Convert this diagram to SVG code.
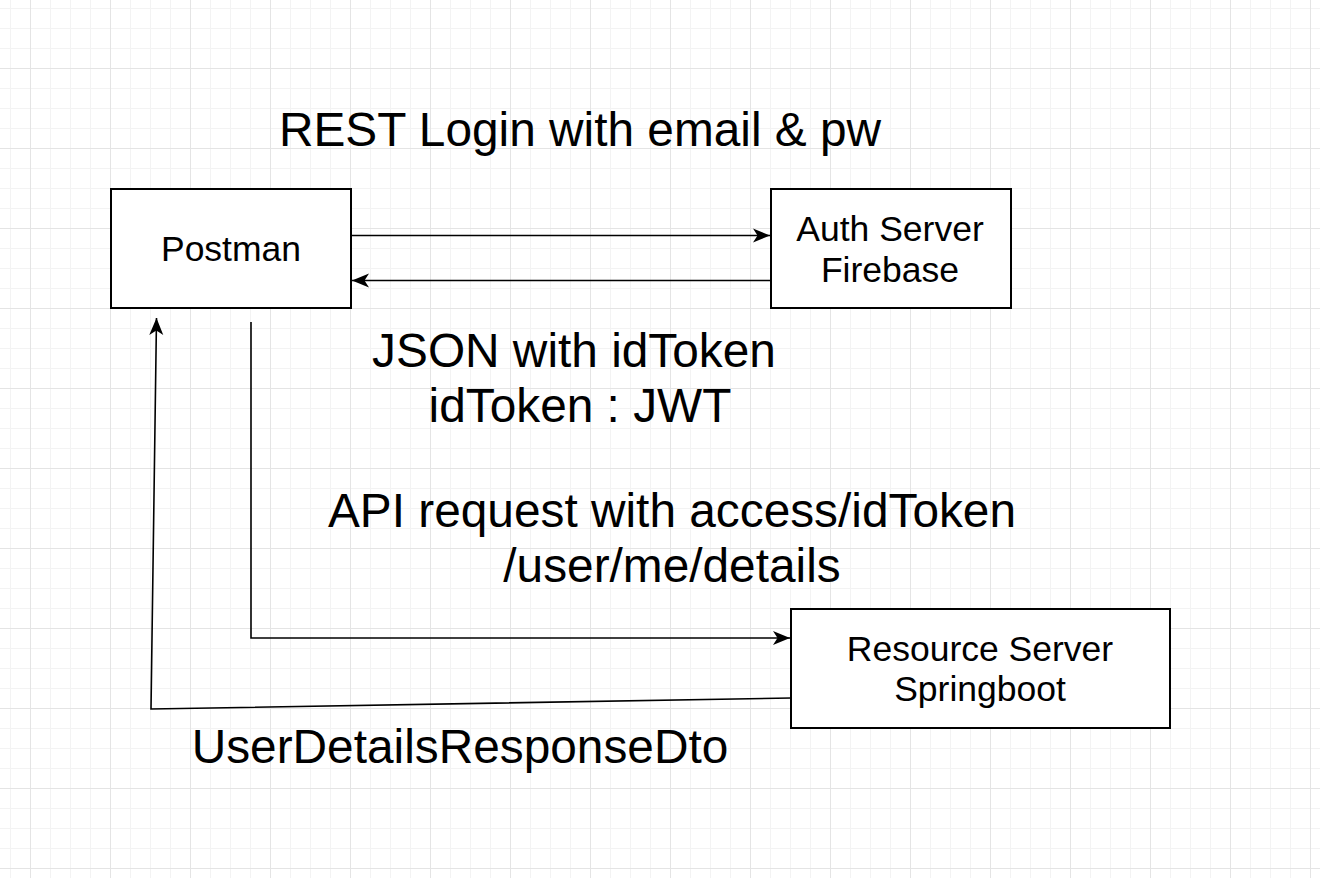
<svg xmlns="http://www.w3.org/2000/svg" width="1320" height="878" viewBox="0 0 1320 878">
<defs>
<pattern id="grid" x="30" y="68" width="80" height="80" patternUnits="userSpaceOnUse">
<rect x="20" y="0" width="1" height="80" fill="#f3f3f3"/>
<rect x="40" y="0" width="1" height="80" fill="#f3f3f3"/>
<rect x="60" y="0" width="1" height="80" fill="#f3f3f3"/>
<rect x="0" y="20" width="80" height="1" fill="#f3f3f3"/>
<rect x="0" y="40" width="80" height="1" fill="#f3f3f3"/>
<rect x="0" y="60" width="80" height="1" fill="#f3f3f3"/>
<rect x="0" y="0" width="1" height="80" fill="#e4e4e4"/>
<rect x="0" y="0" width="80" height="1" fill="#e4e4e4"/>
</pattern>
<marker id="arrow" markerUnits="userSpaceOnUse" markerWidth="20" markerHeight="18" refX="18" refY="8" orient="auto">
<path d="M1,1 L18,8 L1,15 L5.5,8 Z" fill="#000"/>
</marker>
</defs>
<style>
.box{fill:#fff;stroke:#000;stroke-width:2}
.edge{fill:none;stroke:#000;stroke-width:1.6;marker-end:url(#arrow)}
.nt{font-family:"Liberation Sans",Arial,sans-serif;font-size:35.5px;fill:#000;text-anchor:middle}
.lbl{font-family:"Liberation Sans",Arial,sans-serif;font-size:47.8px;fill:#000;text-anchor:middle}
</style>
<rect width="1320" height="878" fill="#fff"/>
<rect width="1320" height="878" fill="url(#grid)"/>

<g id="connectors">
<path class="edge" d="M352,235.5 H770"/>
<path class="edge" d="M770,280.5 H352"/>
<path class="edge" d="M251,322 V638 H790"/>
<path class="edge" d="M791,698 L151,709 L156.5,318"/>
</g>

<g id="postman">
<rect class="box" x="111" y="189" width="240" height="119"/>
<text class="nt" x="231" y="261">Postman</text>
</g>
<g id="auth-server">
<rect class="box" x="771" y="189" width="240" height="119"/>
<text class="nt" x="890" y="241">Auth Server</text>
<text class="nt" x="890" y="282">Firebase</text>
</g>
<g id="resource-server">
<rect class="box" x="791" y="609" width="379" height="119"/>
<text class="nt" x="980" y="661">Resource Server</text>
<text class="nt" x="980" y="701">Springboot</text>
</g>

<g id="labels">
<text class="lbl" x="580" y="146">REST Login with email &amp; pw</text>
<text class="lbl" x="574" y="367">JSON with idToken</text>
<text class="lbl" x="580" y="422">idToken : JWT</text>
<text class="lbl" x="672" y="527">API request with access/idToken</text>
<text class="lbl" x="672" y="582">/user/me/details</text>
<text class="lbl" x="460" y="763">UserDetailsResponseDto</text>
</g>
</svg>
